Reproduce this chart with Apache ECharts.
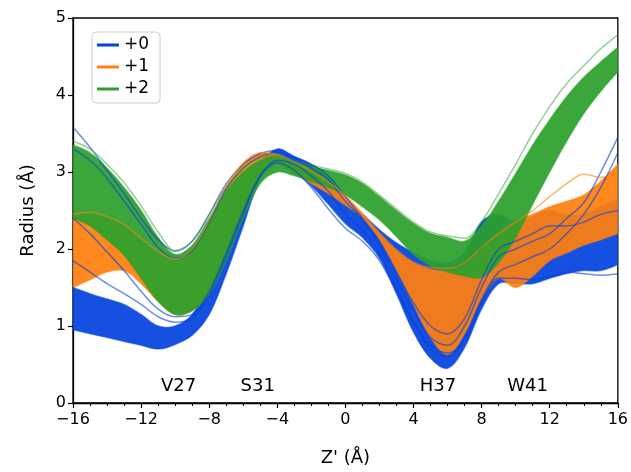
<!DOCTYPE html>
<html><head><meta charset="utf-8">
<script src="https://cdn.jsdelivr.net/npm/echarts@6/dist/echarts.min.js"></script>
<style>html,body{margin:0;padding:0;background:#fff}#c{width:631px;height:472px}</style>
</head><body><div id="c"></div>
<script>
// Z' positions (Å)
const zVals = [-16,-15,-14,-13,-12,-11,-10,-9,-8,-7,-6,-5,-4,-3,-2,-1,0,1,2,3,4,5,6,7,8,9,10,11,12,13,14,15,16];

// +0 (blue) bundle: dense core envelope and individual outlying profiles
const blueLow  = [0.95,0.90,0.85,0.80,0.75,0.70,0.76,0.88,1.15,1.68,2.30,2.90,3.10,3.00,2.82,2.58,2.33,2.15,1.88,1.42,0.92,0.58,0.45,0.72,1.22,1.55,1.55,1.55,1.62,1.68,1.72,1.72,1.80];
const blueHigh = [1.50,1.42,1.35,1.28,1.15,1.00,1.00,1.15,1.55,2.15,2.75,3.12,3.30,3.20,3.10,2.95,2.60,2.45,2.25,2.08,1.95,1.85,1.82,1.95,2.35,2.45,2.35,2.42,2.50,2.45,2.45,2.55,2.65];
const blueOut1 = [3.58,3.32,3.02,2.72,2.40,2.12,1.97,2.10,2.45,2.85,3.10,3.24,3.28,3.20,3.10,2.95,2.68,2.40,2.10,1.70,1.30,1.00,0.90,1.10,1.60,2.00,2.10,2.20,2.30,2.30,2.35,2.45,2.50];
const blueOut2 = [3.30,3.15,2.92,2.62,2.32,2.02,1.88,1.98,2.35,2.78,3.05,3.20,3.25,3.18,3.05,2.90,2.62,2.38,2.05,1.60,1.20,0.85,0.75,1.00,1.50,1.90,2.00,2.10,2.20,2.40,2.60,3.00,3.45];
const blueOut3 = [2.40,2.20,1.96,1.72,1.45,1.22,1.12,1.15,1.45,1.95,2.50,2.95,3.15,3.10,2.95,2.75,2.45,2.25,1.95,1.50,1.05,0.70,0.60,0.85,1.35,1.70,1.80,1.90,2.00,2.20,2.45,2.80,3.25];
const blueOut4 = [1.85,1.70,1.55,1.42,1.28,1.12,1.05,1.10,1.40,1.90,2.45,2.95,3.12,3.02,2.80,2.52,2.27,2.10,1.85,1.45,1.05,0.75,0.65,0.80,1.30,1.62,1.62,1.60,1.65,1.70,1.68,1.66,1.68];

// +1 (orange) bundle
const orangeLow  = [1.50,1.60,1.70,1.72,1.55,1.32,1.15,1.20,1.45,1.95,2.50,3.00,3.10,2.98,2.85,2.72,2.57,2.40,2.12,1.72,1.28,0.85,0.63,0.90,1.35,1.62,1.50,1.65,1.85,1.95,2.05,2.12,2.20];
const orangeHigh = [2.42,2.45,2.40,2.30,2.12,1.95,1.85,1.98,2.35,2.80,3.10,3.24,3.22,3.12,3.00,2.86,2.68,2.45,2.20,1.98,1.82,1.74,1.72,1.78,1.98,2.22,2.38,2.45,2.55,2.62,2.70,2.88,3.10];
const orangeOut1 = [2.45,2.48,2.42,2.32,2.14,1.97,1.87,2.00,2.37,2.82,3.12,3.25,3.23,3.13,3.01,2.87,2.69,2.46,2.21,1.99,1.83,1.76,1.75,1.82,2.02,2.20,2.35,2.50,2.68,2.85,2.97,2.93,3.00];

// +2 (green) bundle
const greenLow  = [2.40,2.30,2.12,1.92,1.62,1.32,1.15,1.20,1.40,1.85,2.40,2.85,3.00,2.95,2.88,2.80,2.70,2.55,2.38,2.16,1.93,1.78,1.70,1.65,1.63,1.82,2.15,2.58,3.00,3.40,3.76,4.05,4.30];
const greenHigh = [3.35,3.25,3.05,2.80,2.50,2.15,1.93,2.05,2.40,2.75,3.00,3.15,3.20,3.12,3.07,3.02,2.96,2.85,2.68,2.50,2.33,2.20,2.15,2.10,2.30,2.62,2.98,3.35,3.68,3.98,4.23,4.43,4.62];
const greenOut1 = [3.40,3.30,3.10,2.86,2.56,2.22,1.98,2.10,2.45,2.80,3.05,3.18,3.22,3.14,3.09,3.04,2.98,2.87,2.70,2.52,2.35,2.22,2.17,2.14,2.36,2.72,3.10,3.50,3.85,4.15,4.38,4.60,4.78];

// legend and annotation texts
const groupNames = ['+0','+1','+2'];
const residueNames = ['V27','S31','H37','W41'];
const residueZ = [-9.8,-5.15,5.43,10.7];
const residueR = [0.22,0.22,0.22,0.22];

const xTicks = {min:-16, max:16, step:4};
const yTicks = {min:0, max:5, step:1};

const COLORS = ['#0343df','#ff7f0e','#2ca02c'];
const FONT = 'DejaVu Sans';
const SM = 0.35;

const pairs = arr => zVals.map((z,i)=>[z, arr[i]]);

// same control-point rule as ECharts' smoothed line
function smoothPath(pts, s, first){
  const n = pts.length;
  const outCp = [], inCp = [];
  for (let i=0;i<n;i++){
    const p = pts[i];
    if (i===0 || i===n-1){ outCp.push(p); inCp.push(p); continue; }
    const a = pts[i-1], b = pts[i+1];
    const vx = b[0]-a[0], vy = b[1]-a[1];
    const l0 = Math.hypot(p[0]-a[0], p[1]-a[1]);
    const l1 = Math.hypot(b[0]-p[0], b[1]-p[1]);
    const r = (l0+l1) ? l1/(l0+l1) : 0.5;
    outCp.push([p[0]+vx*s*r, p[1]+vy*s*r]);
    inCp.push([p[0]-vx*s*(1-r), p[1]-vy*s*(1-r)]);
  }
  const f = v => v.toFixed(2);
  let d = first + f(pts[0][0]) + ' ' + f(pts[0][1]);
  for (let i=1;i<n;i++){
    const c1 = outCp[i-1], c2 = inCp[i], p = pts[i];
    d += ' C' + f(c1[0])+' '+f(c1[1])+' '+f(c2[0])+' '+f(c2[1])+' '+f(p[0])+' '+f(p[1]);
  }
  return d;
}

function bandSeries(lo, hi, color){
  return {type:'custom', data:[[zVals[0], lo[0]]], encode:{x:0,y:1}, clip:true, silent:true,
    renderItem:(params, api)=>{
      const top = zVals.map((z,i)=>api.coord([z, hi[i]]));
      const bot = zVals.map((z,i)=>api.coord([z, lo[i]]));
      const area = smoothPath(top, SM, 'M') + ' ' + smoothPath(bot.slice().reverse(), SM, 'L') + ' Z';
      return {type:'group', children:[
        {type:'path', shape:{pathData:area}, style:{fill:color, opacity:0.93, stroke:'none'}},
        {type:'path', shape:{pathData:smoothPath(top, SM, 'M')}, style:{fill:'none', stroke:color, lineWidth:1.5, opacity:0.5}},
        {type:'path', shape:{pathData:smoothPath(bot, SM, 'M')}, style:{fill:'none', stroke:color, lineWidth:1.5, opacity:0.5}}
      ]};
    }};
}
function thin(arr, color, op, w){
  return {type:'line', data:pairs(arr), symbol:'none', smooth:SM,
    lineStyle:{color:color, width:w||1.5, opacity:op}, silent:true};
}

const series = [];
series.push(bandSeries(blueLow, blueHigh, COLORS[0]));
series.push(bandSeries(orangeLow, orangeHigh, COLORS[1]));
series.push(thin(blueOut1, COLORS[0], 0.6), thin(blueOut2, COLORS[0], 0.6), thin(blueOut3, COLORS[0], 0.6), thin(blueOut4, COLORS[0], 0.6));
series.push(thin(orangeOut1, COLORS[1], 0.6));
series.push(bandSeries(greenLow, greenHigh, COLORS[2]));
series.push(thin(greenOut1, COLORS[2], 0.5));
// legend entries
groupNames.forEach((n,i)=>series.push({type:'line', name:n, data:[], symbol:'none',
  itemStyle:{color:COLORS[i]}, lineStyle:{color:COLORS[i], width:2.5}}));
// residue annotations
series.push({type:'scatter', data:residueNames.map((n,i)=>({name:n, value:[residueZ[i], residueR[i]]})),
  symbolSize:0, silent:true, itemStyle:{opacity:1},
  label:{show:true, position:'inside', formatter:p=>p.name, color:'#000', opacity:1, fontSize:18, fontFamily:FONT}});

const chart = echarts.init(document.getElementById('c'), null, {renderer:'canvas'});
chart.setOption({
  animation:false,
  backgroundColor:'#fff',
  grid:{left:73, right:10, top:18, bottom:69, show:true, borderColor:'#000', borderWidth:1.3, backgroundColor:'transparent'},
  legend:{data:groupNames, orient:'vertical', left:92, top:32, icon:'rect', itemWidth:22, itemHeight:3,
    itemGap:2, padding:[3,11,4,5], backgroundColor:'rgba(255,255,255,0.85)', borderColor:'#cccccc', borderWidth:1, borderRadius:4,
    textStyle:{fontSize:17, fontFamily:FONT, color:'#000', lineHeight:20}},
  xAxis:{type:'value', min:xTicks.min, max:xTicks.max, interval:xTicks.step,
    name:"Z' (Å)", nameLocation:'middle', nameGap:46, nameTextStyle:{fontSize:18, fontFamily:FONT, color:'#000'},
    axisLine:{onZero:false, lineStyle:{color:'#000', width:1.3}},
    axisTick:{show:true, inside:false, length:5, lineStyle:{color:'#000', width:1.2}},
    minorTick:{show:true, splitNumber:4, length:3, lineStyle:{color:'#000', width:1}},
    splitLine:{show:false},
    axisLabel:{fontSize:16, fontFamily:FONT, color:'#000', margin:9, formatter:v=>String(v).replace('-','\u2212')}},
  yAxis:{type:'value', min:yTicks.min, max:yTicks.max, interval:yTicks.step,
    name:'Radius (Å)', nameLocation:'middle', nameGap:36, nameTextStyle:{fontSize:18, fontFamily:FONT, color:'#000'},
    axisLine:{show:true, onZero:false, lineStyle:{color:'#000', width:1.3}},
    axisTick:{show:true, inside:false, length:5, lineStyle:{color:'#000', width:1.2}},
    splitLine:{show:false},
    axisLabel:{fontSize:16, fontFamily:FONT, color:'#000', margin:7}},
  series:series
});
</script>
</body></html>
